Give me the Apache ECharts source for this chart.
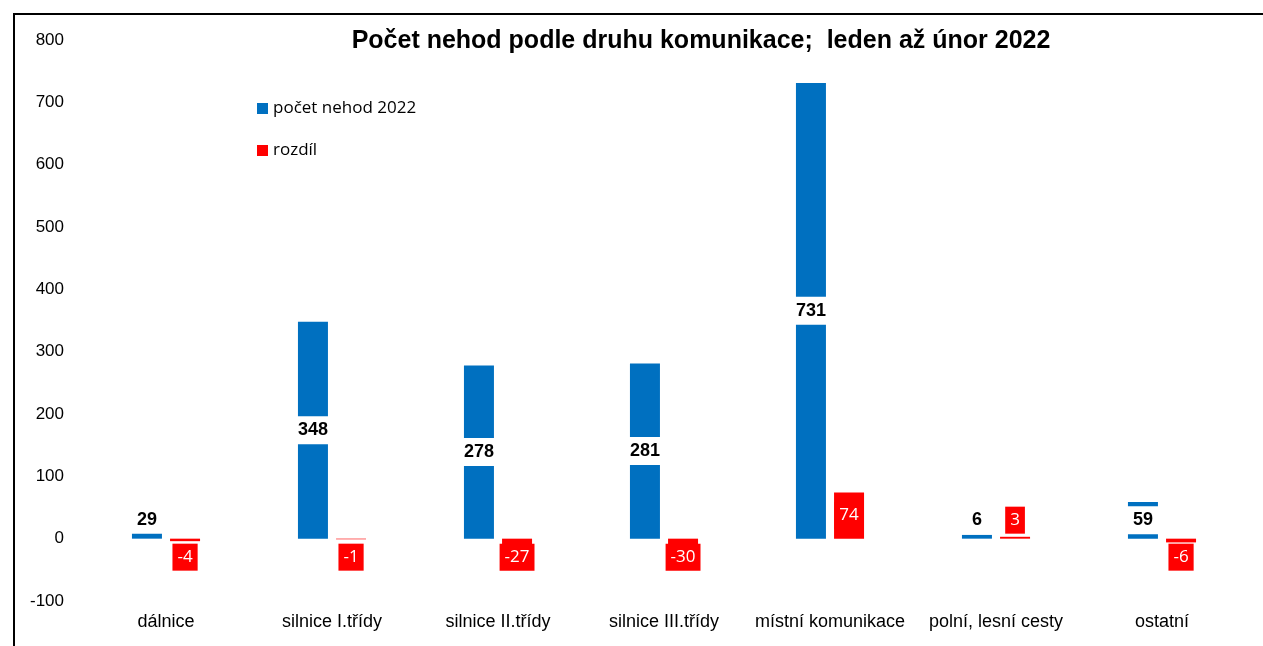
<!DOCTYPE html>
<html lang="cs">
<head>
    <meta charset="UTF-8">
    <title>Počet nehod podle druhu komunikace</title>
    <script src="https://cdn.jsdelivr.net/npm/echarts@6/dist/echarts.min.js"></script>
    <style>
        html, body { margin: 0; padding: 0; background: #fff; }
    </style>
</head>
<body>
    <div id="chart" style="width: 1263px; height: 646px;"></div>
    <script>
        var categories = ["dálnice", "silnice I.třídy", "silnice II.třídy", "silnice III.třídy",
            "místní komunikace", "polní, lesní cesty", "ostatní"];
        var nehody2022 = [29, 348, 278, 281, 731, 6, 59];
        var rozdil = [-4, -1, -27, -30, 74, 3, -6];

        // Excel keeps small labels a fixed distance away from the zero line
        var SMALL = 58;
        function withLabels(values) {
            return values.map(function (v) {
                if (Math.abs(v) >= SMALL) return { value: v };
                return {
                    value: v,
                    label: { position: v < 0 ? "insideTop" : "insideBottom", distance: 5 }
                };
            });
        }

        var chart = echarts.init(document.getElementById("chart"));
        chart.setOption({
            animation: false,
            title: {
                text: "Počet nehod podle druhu komunikace;  leden až únor 2022",
                left: 696,
                textAlign: "center",
                top: 24,
                textStyle: { fontFamily: "Liberation Sans", fontWeight: "bold", fontSize: 25, color: "#000" }
            },
            legend: {
                orient: "vertical",
                left: 252,
                top: 95,
                itemWidth: 11,
                itemHeight: 11,
                itemGap: 25,
                icon: "rect",
                textStyle: { fontFamily: "Open Sans", fontSize: 17, color: "#000" },
                data: ["počet nehod 2022", "rozdíl"]
            },
            grid: { left: 83, right: 18, top: 40, bottom: 45 },
            xAxis: {
                type: "category",
                data: categories,
                axisLine: { show: false, onZero: false },
                axisTick: { show: false },
                axisLabel: { margin: 12, color: "#000", fontFamily: "Liberation Sans", fontSize: 18, interval: 0 }
            },
            yAxis: {
                type: "value",
                min: -100,
                max: 800,
                interval: 100,
                splitLine: { show: false },
                axisLine: { show: false },
                axisTick: { show: false },
                axisLabel: { margin: 19, color: "#000", fontFamily: "Liberation Sans", fontSize: 17 }
            },
            graphic: [{
                type: "rect",
                shape: { x: 14, y: 14, width: 1400, height: 800 },
                style: { fill: "none", stroke: "#000", lineWidth: 2 }
            }],
            series: [
                {
                    name: "počet nehod 2022",
                    type: "bar",
                    barWidth: 30,
                    barGap: "27%",
                    itemStyle: { color: "#0070c0" },
                    label: {
                        show: true,
                        position: "inside",
                        color: "#000",
                        fontFamily: "Liberation Sans",
                        fontWeight: "bold",
                        fontSize: 18,
                        backgroundColor: "#fff",
                        padding: [5, 8]
                    },
                    data: withLabels(nehody2022)
                },
                {
                    name: "rozdíl",
                    type: "bar",
                    barWidth: 30,
                    itemStyle: { color: "#ff0000" },
                    label: {
                        show: true,
                        position: "inside",
                        color: "#fff",
                        fontFamily: "Open Sans",
                        fontSize: 17,
                        backgroundColor: "#ff0000",
                        padding: [5, 5]
                    },
                    data: withLabels(rozdil)
                }
            ]
        });
    </script>
</body>
</html>
